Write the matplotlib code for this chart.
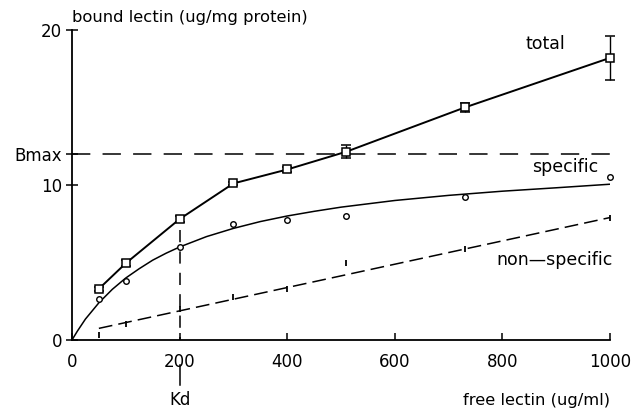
import matplotlib
matplotlib.use("Agg")
import matplotlib.pyplot as plt

# free lectin (ug/ml)
free = [50, 100, 200, 300, 400, 510, 730, 1000]

# bound lectin (ug/mg protein)
total = [3.3, 4.95, 7.8, 10.1, 11.0, 12.15, 15.0, 18.2]
total_err = [0.15, 0.2, 0.2, 0.1, 0.15, 0.4, 0.3, 1.4]
specific = [2.65, 3.8, 6.0, 7.5, 7.75, 8.0, 9.2, 10.5]
nonspecific = [0.3, 1.05, 2.0, 2.8, 3.3, 4.95, 5.9, 7.9]

# fitted curves
spec_fit_x = [0, 10, 25, 50, 75, 100, 125, 150, 175, 200, 250, 300, 350, 400,
              450, 500, 600, 700, 800, 900, 1000]
spec_fit_y = [0, 0.57, 1.35, 2.4, 3.27, 4.0, 4.6, 5.15, 5.6, 6.0, 6.67, 7.2,
              7.64, 8.0, 8.3, 8.57, 9.0, 9.33, 9.6, 9.82, 10.05]
nonspec_fit_x = [50, 1000]
nonspec_fit_y = [0.75, 7.9]

bmax = 12.0
kd = 200

fig = plt.figure(figsize=(6.33, 4.09), dpi=100)
ax = fig.add_axes([0.1137, 0.1687, 0.85, 0.758])

# total: squares joined by straight segments, with error bars
ax.plot(free, total, color="black", lw=1.4)
ax.errorbar(free, total, yerr=total_err, fmt="s", mfc="white", mec="black",
            ms=5.5, mew=1.1, ecolor="black", elinewidth=1, capsize=3.5,
            capthick=1, clip_on=False)

# specific: open circles + hyperbolic fit
ax.plot(spec_fit_x, spec_fit_y, color="black", lw=1.1)
ax.plot(free, specific, "o", mfc="white", mec="black", ms=4, mew=1, clip_on=False)

# non-specific: dots + dashed line
ax.plot(nonspec_fit_x, nonspec_fit_y, color="black", lw=1.1, dashes=(9, 4))
ax.plot(free, nonspecific, "|", color="black", ms=4, mew=1.3, clip_on=False)

# Bmax and Kd guide lines
ax.plot([0, 1022], [bmax, bmax], color="black", lw=1.1, dashes=(12, 8),
        clip_on=False)
ax.plot([kd, kd], [7.1, 0], color="black", lw=1.1, dashes=(8, 6))
ax.plot([kd, kd], [-1.6, -2.9], color="black", lw=1.1, clip_on=False)

ax.set_xlim(0, 1000)
ax.set_ylim(0, 20)
ax.spines["top"].set_visible(False)
ax.spines["right"].set_visible(False)
ax.spines["left"].set_linewidth(1.3)
ax.spines["bottom"].set_linewidth(1.3)

ax.set_xticks([0, 200, 400, 600, 800, 1000])
ax.set_yticks([0, 10, bmax, 20])
ax.set_yticklabels(["0", "10", "Bmax", "20"])
ax.tick_params(axis="x", direction="in", length=5, width=1.1, labelsize=12, pad=9)
ax.tick_params(axis="y", direction="inout", length=8, width=1.1, labelsize=12, pad=3)

ax.text(0.0, 20.3, "bound lectin (ug/mg protein)", fontsize=11.8, ha="left", va="bottom")
ax.text(1000, -3.9, "free lectin (ug/ml)", fontsize=11.8, ha="right", va="center")
ax.text(kd, -3.9, "Kd", fontsize=12, ha="center", va="center")
ax.text(879, 19.1, "total", fontsize=12.5, ha="center", va="center")
ax.text(916, 11.15, "specific", fontsize=12.5, ha="center", va="center")
ax.text(896, 5.15, "non\u2014specific", fontsize=12.5, ha="center", va="center")

fig.savefig("out.png", dpi=100)
